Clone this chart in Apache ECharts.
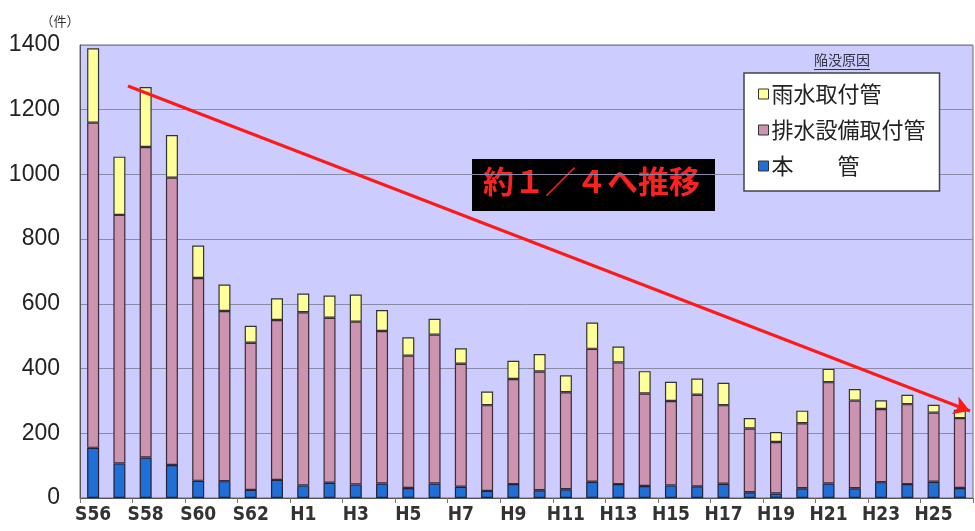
<!DOCTYPE html>
<html>
<head>
<meta charset="utf-8">
<script src="https://cdn.jsdelivr.net/npm/echarts@6/dist/echarts.min.js"></script>
<style>
  html, body { margin: 0; padding: 0; background: #fff; }
  #chart { width: 975px; height: 531px; }
</style>
</head>
<body>
<div id="chart"></div>
<script>
const years = ['S56', 'S57', 'S58', 'S59', 'S60', 'S61', 'S62', 'S63',
  'H1', 'H2', 'H3', 'H4', 'H5', 'H6', 'H7', 'H8', 'H9', 'H10', 'H11', 'H12', 'H13',
  'H14', 'H15', 'H16', 'H17', 'H18', 'H19', 'H20', 'H21', 'H22', 'H23', 'H24', 'H25', 'H26'];
// 本管
const mainPipe = [155, 107, 125, 102, 53, 52, 25, 56,
  39, 47, 42, 45, 31, 45, 35, 22, 43, 24, 27, 50, 43,
  37, 39, 36, 44, 18, 14, 30, 45, 30, 49, 43, 50, 31];
// 排水設備取付管
const drainPipe = [1005, 768, 960, 888, 627, 526, 455, 494,
  535, 510, 503, 471, 409, 460, 380, 265, 325, 367, 300, 411, 376,
  286, 261, 283, 243, 197, 159, 201, 313, 271, 226, 247, 214, 216];
// 雨水取付管
const rainPipe = [230, 180, 185, 132, 100, 82, 52, 67,
  58, 69, 84, 65, 57, 49, 48, 42, 56, 54, 52, 81, 49,
  69, 59, 50, 69, 32, 31, 39, 41, 36, 27, 29, 24, 26];
const yTicks = [0, 200, 400, 600, 800, 1000, 1200, 1400];

const chart = echarts.init(document.getElementById('chart'));

const barBase = {
  type: 'bar',
  stack: 'total',
  barWidth: 12,
};

chart.setOption({
  animation: false,
  grid: {
    left: 80, right: 2, top: 45, bottom: 33,
    show: true,
    backgroundColor: '#ccccff',
    borderColor: '#6a6a80',
    borderWidth: 1
  },
  legend: {
    orient: 'vertical',
    left: 744, top: 73,
    width: 211,
    data: ['雨水取付管', '排水設備取付管', '本　　管'],
    icon: 'rect',
    itemWidth: 10, itemHeight: 10,
    itemGap: 14,
    padding: [10, 14, 14, 14],
    backgroundColor: '#ffffff',
    borderColor: '#444',
    borderWidth: 1.5,
    textStyle: { fontSize: 22, color: '#222', fontFamily: 'Noto Sans CJK JP', padding: [0, 0, 0, -2] },
    itemStyle: { borderColor: '#333', borderWidth: 1 }
  },
  xAxis: {
    type: 'category',
    data: years,
    axisLine: { lineStyle: { color: '#555' } },
    axisTick: { show: true, lineStyle: { color: '#777' } },
    axisLabel: {
      interval: 1,
      fontSize: 19,
      color: '#333',
      fontWeight: 'bold',
      fontFamily: "'DejaVu Sans Condensed', 'Liberation Sans', sans-serif",
      margin: 8
    }
  },
  yAxis: {
    type: 'value',
    min: yTicks[0],
    max: yTicks[yTicks.length - 1],
    interval: 200,
    name: '（件）',
    nameLocation: 'end',
    nameGap: 17,
    nameTextStyle: { fontSize: 13, color: '#333', fontFamily: 'Noto Sans CJK JP', padding: [0, 40, 0, 0] },
    axisLine: { show: true, lineStyle: { color: '#555' } },
    axisTick: { show: false },
    axisLabel: {
      fontSize: 23, color: '#222', fontFamily: 'Liberation Sans', margin: 20,
      formatter: v => String(v)
    },
    splitLine: { lineStyle: { color: '#8a8aa6', width: 1 } }
  },
  series: [
    Object.assign({}, barBase, {
      name: '本　　管',
      data: mainPipe,
      itemStyle: { color: '#1f6fd6', borderColor: '#223', borderWidth: 1.2 }
    }),
    Object.assign({}, barBase, {
      name: '排水設備取付管',
      data: drainPipe,
      itemStyle: { color: '#cc94ae', borderColor: '#3a2a3a', borderWidth: 1.2 }
    }),
    Object.assign({}, barBase, {
      name: '雨水取付管',
      data: rainPipe,
      itemStyle: { color: '#ffff99', borderColor: '#333', borderWidth: 1.2 },
      markLine: {
        silent: true,
        symbol: ['none', 'arrow'],
        symbolSize: [14, 16],
        label: { show: false },
        lineStyle: { color: '#ff1a1a', width: 3, type: 'solid' },
        data: [[{ x: 128, y: 86 }, { x: 970, y: 411 }]]
      }
    })
  ],
  graphic: [
    {
      type: 'text',
      left: 814, top: 53,
      style: {
        text: '陥没原因',
        fontSize: 14,
        fill: '#334',
        fontFamily: 'Noto Sans CJK JP'
      }
    },
    {
      type: 'rect',
      left: 814, top: 69,
      shape: { width: 56, height: 1 },
      style: { fill: '#334' }
    },
    {
      type: 'group',
      left: 472, top: 159,
      children: [
        {
          type: 'rect',
          shape: { width: 243, height: 52 },
          style: { fill: '#000' }
        },
        {
          type: 'text',
          left: 11, top: 7,
          style: {
            text: '約１／４へ推移',
            fontSize: 31,
            fontWeight: 'bold',
            fill: '#ff2020',
            fontFamily: 'Noto Sans CJK JP'
          }
        }
      ]
    }
  ]
});
</script>
</body>
</html>
